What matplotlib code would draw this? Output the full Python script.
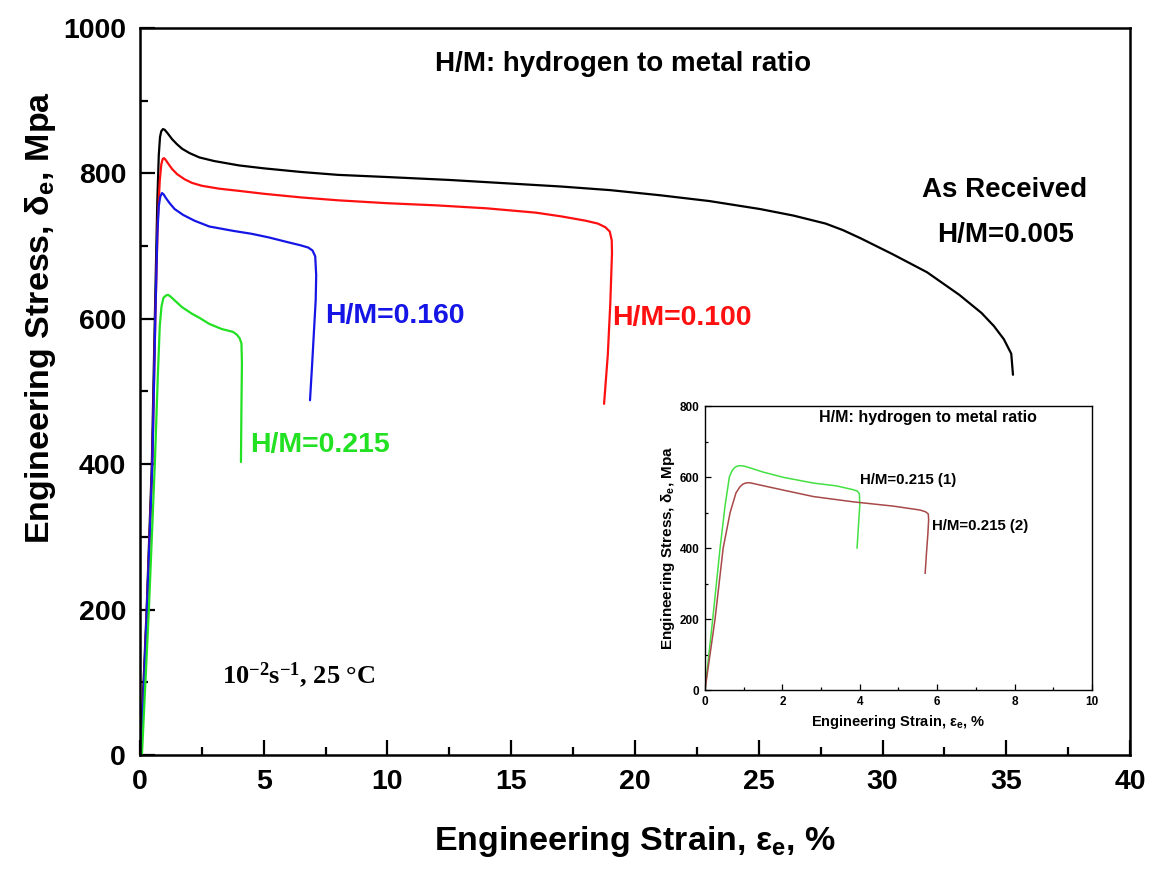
import matplotlib
matplotlib.use("Agg")
import matplotlib.pyplot as plt
from matplotlib.ticker import MultipleLocator

plt.rcParams['font.family'] = ['Liberation Sans', 'DejaVu Sans']
plt.rcParams['font.weight'] = 'bold'
plt.rcParams['mathtext.default'] = 'regular'

# main chart: engineering stress-strain curves (strain %, stress MPa)
as_recv_x = [0.02, 0.27, 0.48, 0.6, 0.7, 0.76, 0.81, 0.86, 0.93, 1.0, 1.1, 1.3, 1.5, 1.7, 2.0, 2.4, 3,
             4, 5, 6.5, 8, 10, 12.5, 15, 17, 19, 21, 23, 25.05, 26.4, 27.7, 28.4, 29.1, 30.4, 31.8,
             33.1, 34.0, 34.5, 34.9, 35.2, 35.27]
as_recv_y = [0, 200, 400, 600, 760, 825, 850, 858, 861, 860, 856, 847, 840, 834, 828, 822, 817,
             811, 807, 802, 798, 795, 791, 786, 782, 777, 770, 762, 751, 742, 731, 722, 711, 689, 664,
             633, 608, 590, 572, 552, 523]

hm100_x = [0.05, 0.28, 0.5, 0.62, 0.72, 0.8, 0.86, 0.92, 0.97, 1.03, 1.15, 1.3, 1.5, 1.8, 2.1, 2.5,
           3.2, 4, 5, 6.5, 8, 10, 12, 14, 16, 17, 18, 18.5, 18.8, 18.98, 19.06, 19.07, 19.0, 18.9,
           18.75]
hm100_y = [0, 200, 400, 600, 735, 790, 812, 820, 821, 819, 813, 806, 799, 792, 787, 783, 779,
           776, 772, 767, 763, 759, 756, 752, 746, 741, 735, 731, 726, 720, 708, 690, 620, 550, 483]

hm160_x = [0.05, 0.28, 0.5, 0.62, 0.7, 0.76, 0.82, 0.89, 0.96, 1.05, 1.2, 1.4, 1.74, 2.2, 2.8, 3.76,
           4.5, 5.2, 5.9, 6.5, 6.8, 6.97, 7.08, 7.12, 7.1, 6.95, 6.87]
hm160_y = [0, 200, 400, 600, 715, 755, 768, 773, 771, 766, 759, 751, 743, 735, 727, 721,
           717, 712, 706, 701, 698, 694, 686, 660, 626, 534, 488]

hm215_x = [0.08, 0.36, 0.6, 0.72, 0.8, 0.87, 0.95, 1.05, 1.13, 1.22, 1.35, 1.7, 2.1, 2.42, 2.8, 3.3,
           3.76, 3.92, 4.03, 4.1, 4.12, 4.1, 4.08]
hm215_y = [0, 200, 400, 520, 590, 617, 629, 632, 633, 631, 627, 616, 607, 601, 593, 586,
           582, 578, 573, 566, 540, 480, 403]

# inset: two H/M=0.215 samples
s1_x = [0, 0.2, 0.39, 0.52, 0.63, 0.7, 0.77, 0.84, 0.9, 1.0, 1.1, 1.5, 2.03, 2.8, 3.4, 3.84, 3.94,
        3.99, 4.0, 3.97, 3.93]
s1_y = [0, 200, 400, 520, 600, 618, 627, 631, 632, 631, 628, 614, 599, 583, 575, 564, 560,
        553, 520, 470, 400]
s2_x = [0, 0.26, 0.47, 0.65, 0.8, 0.9, 0.98, 1.05, 1.12, 1.2, 1.4, 2.03, 2.8, 3.84, 4.87, 5.56, 5.7,
        5.77, 5.78, 5.76, 5.72, 5.69]
s2_y = [0, 200, 400, 500, 555, 572, 580, 583, 584, 583, 578, 563, 545, 530, 518, 507, 502,
        496, 480, 440, 380, 329]

fig = plt.figure(figsize=(11.51, 8.73), dpi=100)
ax = fig.add_axes([0.1216, 0.1352, 0.8602, 0.8327])

line_kw = dict(lw=1.6, solid_joinstyle='round', solid_capstyle='round')
ax.plot(as_recv_x, as_recv_y, color='black', **line_kw)
ax.plot(hm100_x, hm100_y, color='#ff1010', **line_kw)
ax.plot(hm160_x, hm160_y, color='#1515e6', **line_kw)
ax.plot(hm215_x, hm215_y, color='#22e022', **line_kw)

ax.set_xlim(0, 40)
ax.set_ylim(0, 1000)
ax.xaxis.set_major_locator(MultipleLocator(5))
ax.xaxis.set_minor_locator(MultipleLocator(2.5))
ax.yaxis.set_major_locator(MultipleLocator(200))
ax.yaxis.set_minor_locator(MultipleLocator(100))
ax.tick_params(which='both', direction='in', width=1.6, labelsize=20.5, top=False, right=False)
ax.tick_params(which='major', length=11, pad=10)
ax.tick_params(which='minor', length=6)
for s in ax.spines.values():
    s.set_linewidth(1.8)

ax.set_xlabel('Engineering Strain, ε$_{e}$, %', fontsize=24.5, fontweight='bold')
ax.set_ylabel('Engineering Stress, δ$_{e}$, Mpa', fontsize=24.5, fontweight='bold')
ax.xaxis.set_label_coords(0.5, -0.095)
ax.yaxis.set_label_coords(-0.083, 0.602)

ax.text(19.5, 950, 'H/M: hydrogen to metal ratio', fontsize=20, ha='center', va='center')
ax.text(31.6, 777, 'As Received', fontsize=20, va='center')
ax.text(32.2, 715, 'H/M=0.005', fontsize=20, va='center')
ax.text(7.47, 604, 'H/M=0.160', fontsize=20.5, va='center', color='#1515e6')
ax.text(19.07, 601, 'H/M=0.100', fontsize=20.5, va='center', color='#ff1010')
ax.text(4.44, 426, 'H/M=0.215', fontsize=20.5, va='center', color='#22e022')
ax.text(3.3, 110, '10$^{-2}$s$^{-1}$, 25 °C', fontsize=19, va='center',
        family=['Liberation Serif', 'DejaVu Serif'], fontweight='bold')

# inset
ins = fig.add_axes([0.6125, 0.2096, 0.3362, 0.3253])
ins.plot(s1_x, s1_y, color='#44e044', lw=1.1, solid_joinstyle='round')
ins.plot(s2_x, s2_y, color='#a84848', lw=1.1, solid_joinstyle='round')
ins.set_xlim(0, 10)
ins.set_ylim(0, 800)
ins.xaxis.set_major_locator(MultipleLocator(2))
ins.xaxis.set_minor_locator(MultipleLocator(1))
ins.yaxis.set_major_locator(MultipleLocator(200))
ins.yaxis.set_minor_locator(MultipleLocator(100))
ins.tick_params(which='both', direction='in', width=0.9, labelsize=8.5, top=False, right=False)
ins.tick_params(which='major', length=4, pad=4)
ins.tick_params(which='minor', length=2.5)
for s in ins.spines.values():
    s.set_linewidth(1.0)
ins.set_xlabel('Engineering Strain, ε$_{e}$, %', fontsize=10.5, fontweight='bold', labelpad=4)
ins.set_ylabel('Engineering Stress, δ$_{e}$, Mpa', fontsize=11, fontweight='bold', labelpad=2)
ins.text(5.76, 769, 'H/M: hydrogen to metal ratio', fontsize=11.5, ha='center', va='center')
ins.text(4.0, 591, 'H/M=0.215 (1)', fontsize=10.8, va='center')
ins.text(5.87, 462, 'H/M=0.215 (2)', fontsize=10.8, va='center')

fig.savefig('out.png', dpi=100)
